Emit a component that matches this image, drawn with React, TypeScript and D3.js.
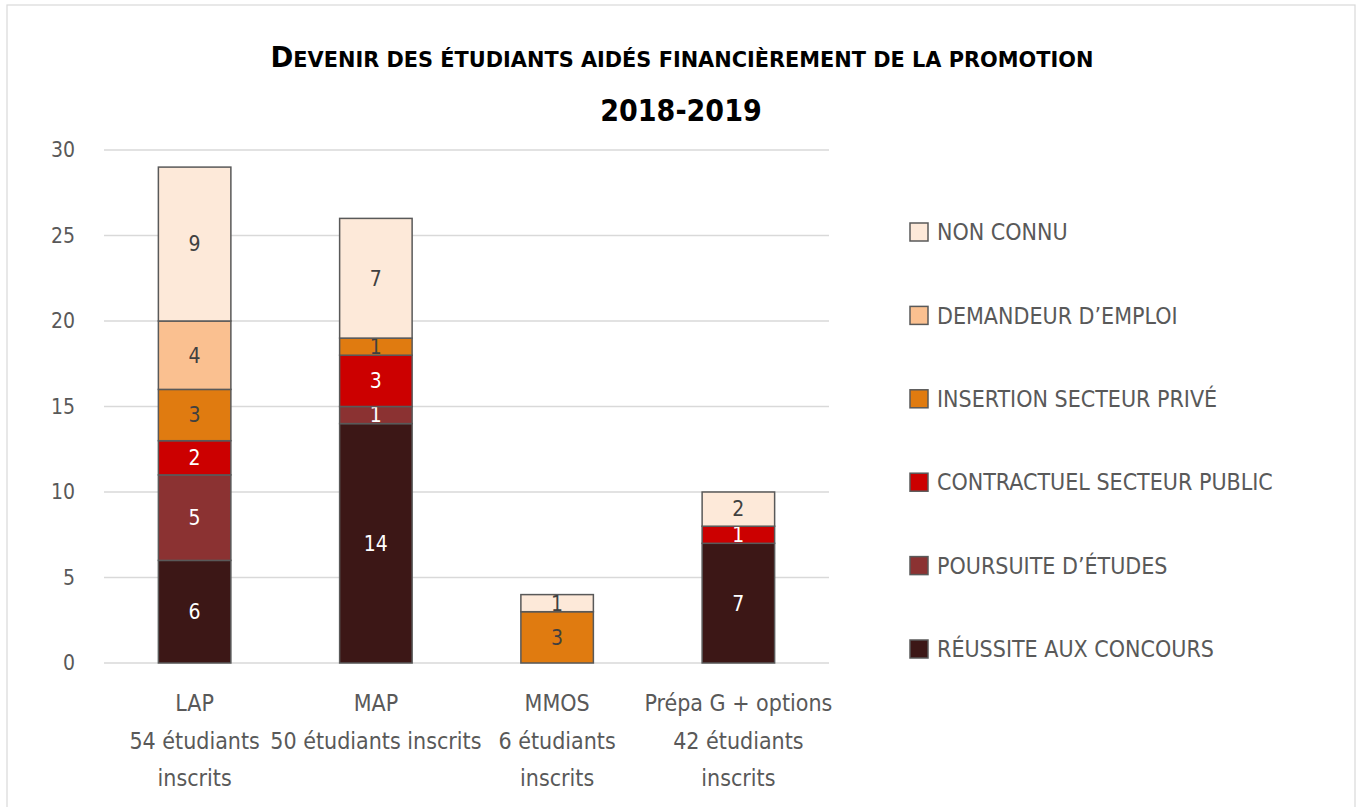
import React from "react";
import * as d3 from "d3";

// categories (x axis), each label split in lines as in the original
const categories = ["LAP", "MAP", "MMOS", "Prépa G + options"];
const categoryLines = [
  ["LAP", "54 étudiants", "inscrits"],
  ["MAP", "50 étudiants inscrits"],
  ["MMOS", "6 étudiants", "inscrits"],
  ["Prépa G + options", "42 étudiants", "inscrits"],
];

// series, bottom to top
const seriesNames = [
  "RÉUSSITE AUX CONCOURS",
  "POURSUITE D’ÉTUDES",
  "CONTRACTUEL SECTEUR PUBLIC",
  "INSERTION SECTEUR PRIVÉ",
  "DEMANDEUR D’EMPLOI",
  "NON CONNU",
];
const reussite = [6, 14, 0, 7];
const poursuite = [5, 1, 0, 0];
const contractuel = [2, 3, 0, 1];
const insertion = [3, 1, 3, 0];
const demandeur = [4, 0, 0, 0];
const nonConnu = [9, 7, 1, 2];

const seriesColors = ["#3C1716", "#8B3232", "#CC0000", "#E07B10", "#FAC090", "#FDE9D9"];
const labelColors = ["#ffffff", "#ffffff", "#ffffff", "#404040", "#404040", "#404040"];
const yTicks = [0, 5, 10, 15, 20, 25, 30];

// title words, drawn as small caps (first letter big)
const titleWords = ["Devenir", "des", "étudiants", "aidés", "financièrement", "de", "la", "promotion"];
const subtitle = "2018-2019";

const FONT = "'DejaVu Sans Condensed', 'DejaVu Sans', sans-serif";

export default function App() {
  const allValues = [reussite, poursuite, contractuel, insertion, demandeur, nonConnu];
  const table = categories.map((c, i) => {
    const row: any = { cat: c };
    seriesNames.forEach((s, j) => (row[s] = allValues[j][i]));
    return row;
  });
  const stacked = d3.stack().keys(seriesNames)(table);

  const x = d3.scaleBand().domain(categories).range([104, 829]).paddingInner(0.6).paddingOuter(0.3);
  const y = d3.scaleLinear().domain([0, 30]).range([663, 150]);
  const legendY = d3.scalePoint().domain(seriesNames.slice().reverse()).range([232, 649]);

  return (
    <svg
      width={1362}
      height={807}
      style={{ position: "absolute", left: 0, top: 0, background: "#fff" }}
      fontFamily={FONT}
    >
      <rect x={7} y={5} width={1348} height={820} fill="#fff" stroke="#d9d9d9" strokeWidth={1.2} />

      {/* title */}
      <text
        x={682}
        y={67}
        textAnchor="middle"
        fontSize={22}
        fontWeight="bold"
        fill="#000"
        textLength={823}
        lengthAdjust="spacingAndGlyphs"
      >
        {titleWords.map((w, i) => (
          <React.Fragment key={i}>
            {i === 0 ? (
              <>
                <tspan fontSize={29}>{w[0].toUpperCase()}</tspan>
                <tspan>{w.slice(1).toUpperCase()}</tspan>
              </>
            ) : (
              <tspan>{(i > 0 ? " " : "") + w.toUpperCase()}</tspan>
            )}
          </React.Fragment>
        ))}
      </text>
      <text x={681} y={121} textAnchor="middle" fontSize={30} fontWeight="bold" fill="#000">
        {subtitle}
      </text>

      {/* grid + y ticks */}
      {yTicks.map((t) => (
        <g key={t}>
          <line x1={104} x2={829} y1={y(t)} y2={y(t)} stroke="#d9d9d9" strokeWidth={1.5} />
          <text x={75} y={y(t)} dy="0.35em" textAnchor="end" fontSize={21} fill="#595959">
            {t}
          </text>
        </g>
      ))}

      {/* bars */}
      {stacked.map((s, j) => (
        <g key={s.key}>
          {s.map((d, i) => {
            const v = d[1] - d[0];
            if (v <= 0) return null;
            const bx = x(categories[i]) as number;
            return (
              <g key={i}>
                <rect
                  x={bx}
                  y={y(d[1])}
                  width={x.bandwidth()}
                  height={y(d[0]) - y(d[1])}
                  fill={seriesColors[j]}
                  stroke="#595959"
                  strokeWidth={1.5}
                />
                <text
                  x={bx + x.bandwidth() / 2}
                  y={(y(d[0]) + y(d[1])) / 2}
                  dy="0.35em"
                  textAnchor="middle"
                  fontSize={21}
                  fill={labelColors[j]}
                >
                  {v}
                </text>
              </g>
            );
          })}
        </g>
      ))}

      {/* x labels */}
      {categoryLines.map((lines, i) => (
        <text
          key={i}
          x={(x(categories[i]) as number) + x.bandwidth() / 2}
          y={711}
          textAnchor="middle"
          fontSize={23}
          fill="#595959"
        >
          {lines.map((l, k) => (
            <tspan key={k} x={(x(categories[i]) as number) + x.bandwidth() / 2} dy={k === 0 ? 0 : 37.5}>
              {l}
            </tspan>
          ))}
        </text>
      ))}

      {/* legend */}
      {seriesNames.map((s, j) => (
        <g key={s} transform={`translate(0,${legendY(s)})`}>
          <rect x={910} y={-9} width={18} height={18} fill={seriesColors[j]} stroke="#595959" strokeWidth={1.5} />
          <text x={937} y={0} dy="0.36em" fontSize={23} fill="#595959">
            {s}
          </text>
        </g>
      ))}
    </svg>
  );
}
